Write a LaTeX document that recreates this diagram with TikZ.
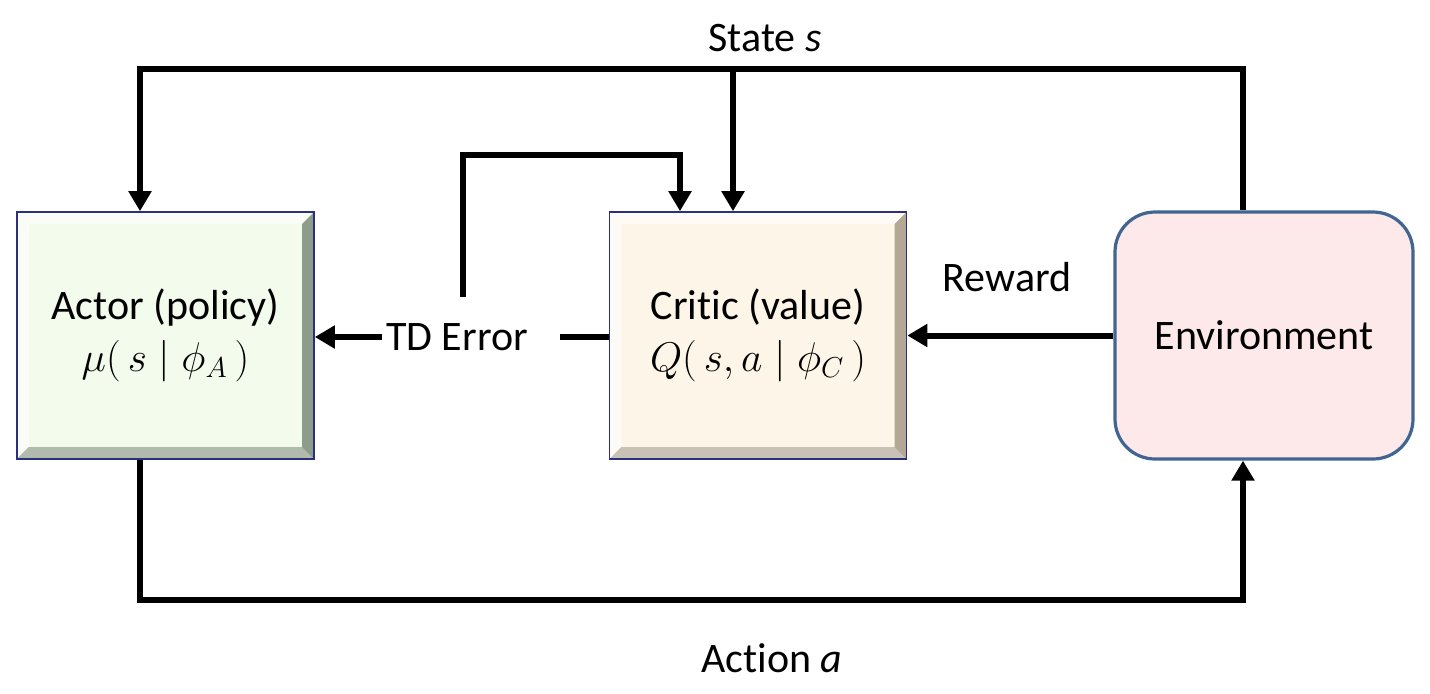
\documentclass[tikz,border=0pt]{standalone}
\usepackage{fontspec}
\setmainfont[RawFeature={-liga,-clig,-calt}]{Carlito}
\usetikzlibrary{arrows.meta}

\definecolor{actfill}{HTML}{F3FBEC}
\definecolor{actdark}{HTML}{8E9C8A}
\definecolor{crifill}{HTML}{FDF6E8}
\definecolor{cridark}{HTML}{B3A796}
\definecolor{envfill}{HTML}{FDE9E9}
\definecolor{envline}{HTML}{3F6590}
\definecolor{boxline}{HTML}{2B2F80}

\tikzset{
  every node/.style={font=\fontsize{21}{24}\selectfont},
  line/.style={line width=3pt},
  arr/.style={line, -{Triangle[width=11pt,length=10pt]}},
  bevel/.style n args={2}{path picture={
      \fill[#1!40!white] (path picture bounding box.south west) -- (path picture bounding box.north west)
        -- (path picture bounding box.north east) -- ([shift={(-6pt,-6pt)}]path picture bounding box.north east)
        -- ([shift={(6pt,-6pt)}]path picture bounding box.north west) -- ([shift={(6pt,6pt)}]path picture bounding box.south west) -- cycle;
      \fill[#2] (path picture bounding box.south west) -- (path picture bounding box.south east)
        -- (path picture bounding box.north east) -- ([shift={(-6pt,-6pt)}]path picture bounding box.north east)
        -- ([shift={(-6pt,6pt)}]path picture bounding box.south east) -- ([shift={(6pt,6pt)}]path picture bounding box.south west) -- cycle;
      \fill[#2!70!white] (path picture bounding box.south west) -- ([shift={(6pt,6pt)}]path picture bounding box.south west)
        -- ([shift={(-6pt,6pt)}]path picture bounding box.south east) -- (path picture bounding box.south east) -- cycle;
    }},
  block/.style n args={2}{draw=boxline, line width=0.8pt, fill=#1, bevel={#1}{#2},
    minimum width=148.5pt, minimum height=123.5pt, inner sep=0pt, align=center},
  envbox/.style={draw=envline, line width=1.6pt, fill=envfill, rounded corners=20pt,
    minimum width=149pt, minimum height=123.5pt, inner sep=0pt, align=center},
  lbl/.style={inner sep=2pt}
}

\begin{document}
\begin{tikzpicture}[x=0.5pt,y=-0.5pt]
  \useasboundingbox (0,0) rectangle (1430,693);

  \node[block={actfill}{actdark}] (actor) at (165.5,335.5) {Actor (policy)\\[2pt]$\mu(\,s\mid\phi_A\,)$};
  \node[block={crifill}{cridark}] (critic) at (758,335.5) {Critic (value)\\[2pt]$Q(\,s,a\mid\phi_C\,)$};
  \node[envbox] (env) at (1264,335.5) {Environment};

  \node[lbl] (tderr) at (457,337) {TD Error};
  \node[lbl] (state) at (765,38) {State \textit{s}};
  \node[lbl] (reward) at (1007,277) {Reward};
  \node[lbl] (action) at (772,658) {Action \textit{a}};

  \coordinate (tl) at (140,69);
  \coordinate (tr) at (1243,69);
  \coordinate (sm) at (733,69);
  \coordinate (bl) at (140,600);
  \coordinate (br) at (1243,600);
  \coordinate (tdup) at (463,297);
  \coordinate (cq) at (680,155);

  \draw[arr] (env.north -| tr) -- (tr) -- (tl) -- (actor.north -| tl);
  \draw[arr] (sm) -- (critic.north -| sm);
  \draw[arr] (tdup) |- (cq) -- (critic.north -| cq);
  \draw[line] (critic.west |- tderr) -- ([xshift=14pt]tderr.east);
  \draw[arr] (tderr.west) -- (actor.east |- tderr);
  \draw[arr] (env.west |- critic.east) -- (critic.east);
  \draw[arr] (actor.south -| bl) -- (bl) -- (br) -- (env.south -| br);
\end{tikzpicture}
\end{document}
